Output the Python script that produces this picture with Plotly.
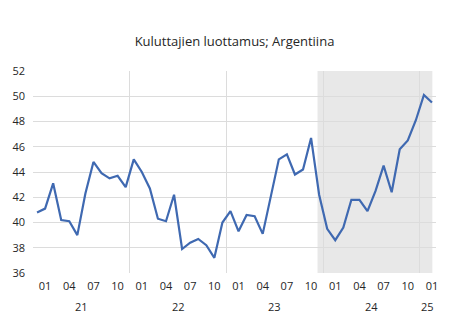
import plotly.graph_objects as go
import pandas as pd

# Data: monthly consumer confidence, Argentina (Dec 2020 .. Jan 2025)
months = pd.period_range("2020-12", "2025-01", freq="M")
values = [
    40.8, 41.1, 43.1, 40.2, 40.1, 39.0, 42.3, 44.8, 43.9, 43.5, 43.7, 42.8,
    45.0, 44.0, 42.7, 40.3, 40.1, 42.2, 37.9, 38.4, 38.7, 38.2, 37.2, 40.0,
    40.9, 39.3, 40.6, 40.5, 39.1, 42.1, 45.0, 45.4, 43.8, 44.2, 46.7, 42.2,
    39.5, 38.6, 39.6, 41.8, 41.8, 40.9, 42.5, 44.5, 42.4, 45.8, 46.5, 48.1,
    50.1, 49.5,
]
month_labels = ["01", "04", "07", "10"]
year_labels = ["21", "22", "23", "24", "25"]
shade_start = "2023-11"
title_text = "Kuluttajien luottamus; Argentiina"

idx = list(range(len(values)))
mlab = [f"{m.month:02d}" for m in months]
tick_idx = [i for i in idx if mlab[i] in month_labels]
tick_txt = [mlab[i] for i in tick_idx]

# Year-group boundaries (as in the reference)
dec_idx = [i for i in idx if months[i].month == 12 and i > 0]
bounds = [-0.5] + [i - 0.5 for i in dec_idx] + [len(values) - 0.5]
centers = [(bounds[k] + bounds[k + 1]) / 2 for k in range(len(bounds) - 1)]

s_idx = [str(m) for m in months].index(shade_start)

FONT = "Open Sans"
TXT = "#262626"
GRID = "#dcdcdc"

fig = go.Figure()
fig.add_trace(go.Scatter(
    x=idx, y=values, mode="lines",
    line=dict(color="#3f69b1", width=2.2),
    hoverinfo="skip", showlegend=False,
))
# dummy trace for secondary x axis (year gridlines)
fig.add_trace(go.Scatter(x=[idx[0]], y=[values[0]], xaxis="x2", mode="markers",
                         marker=dict(opacity=0), showlegend=False, hoverinfo="skip"))

fig.add_shape(type="rect", xref="x", yref="y",
              x0=s_idx - 0.2, x1=idx[-1] + 0.05, y0=36, y1=52,
              fillcolor="#e8e8e8", line=dict(width=0), layer="below")

for c, t in zip(centers, year_labels):
    fig.add_annotation(x=c, xref="x", y=-0.165, yref="paper", yanchor="middle",
                       text=t, showarrow=False, font=dict(family=FONT, size=11, color=TXT))

fig.update_layout(
    width=454, height=334,
    margin=dict(l=30, r=18, t=71, b=61),
    paper_bgcolor="white", plot_bgcolor="rgba(0,0,0,0)",
    title=dict(text=title_text, x=0.5, xref="paper", y=1 - 41.7 / 334, yref="container",
               yanchor="middle", xanchor="center",
               font=dict(family=FONT, size=13, color=TXT)),
    xaxis=dict(range=[-0.5, len(values) - 0.5], tickmode="array", tickvals=tick_idx,
               ticktext=tick_txt, showgrid=False, zeroline=False, showline=False,
               ticks="", ticklabelstandoff=5,
               tickfont=dict(family=FONT, size=11, color=TXT)),
    xaxis2=dict(range=[-0.5, len(values) - 0.5], overlaying="x", side="bottom",
                tickmode="array", tickvals=bounds[1:-1], showticklabels=False,
                showgrid=True, gridcolor=GRID, gridwidth=1, zeroline=False, ticks=""),
    yaxis=dict(range=[36, 52], dtick=2, showgrid=True, gridcolor=GRID, gridwidth=1,
               zeroline=False, showline=False, ticks="", ticklabelstandoff=7,
               tickfont=dict(family=FONT, size=11, color=TXT)),
)

fig.write_html("out.html")
